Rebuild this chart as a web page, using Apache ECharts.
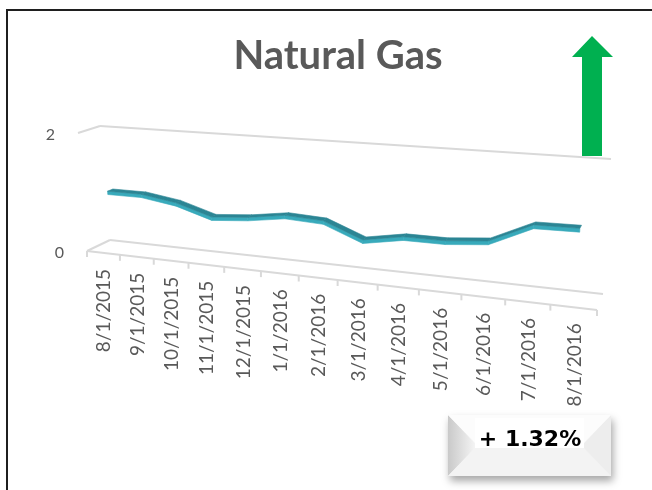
<!DOCTYPE html>
<html><head><meta charset="utf-8">
<script src="https://cdn.jsdelivr.net/npm/echarts@6/dist/echarts.min.js"></script>
<style>html,body{margin:0;padding:0;background:#fff}#c{width:652px;height:490px}</style>
</head><body><div id="c"></div>
<script>
// ---- data ----
const categories = ['8/1/2015','9/1/2015','10/1/2015','11/1/2015','12/1/2015','1/1/2016','2/1/2016','3/1/2016','4/1/2016','5/1/2016','6/1/2016','7/1/2016','8/1/2016'];
const values = [0.98, 0.98, 0.89, 0.71, 0.76, 0.85, 0.82, 0.58, 0.69, 0.69, 0.75, 1.05, 1.06];
const yTicks = [0, 2];
const yTickLabels = ['0', '2'];
const titleText = 'Natural Gas';
const changeText = '+ 1.32%';

// ---- 3D perspective frame (layout only) ----
const BACK  = {L0:[110,240], R0:[603,294], L1:[100,126], R1:[611,159]};
const FRONT = {L0:[87,251],  R0:[597,310], L1:[78,133],  R1:[605,169]};
const WARP = -0.1718;
function lerp(a,b,t){return [a[0]+(b[0]-a[0])*t, a[1]+(b[1]-a[1])*t];}
function plane(p,f,v){return lerp(lerp(p.L0,p.R0,f), lerp(p.L1,p.R1,f), v);}
function proj(u,v,d){const f=u*(1+WARP)/(1+WARP*u); return lerp(plane(BACK,f,v), plane(FRONT,f,v), d);}
function uv(api, cs, x, y){const p=api.coord([x,y]); return [(p[0]-cs.x)/cs.width, (cs.y+cs.height-p[1])/cs.height];}

const GRID = '#D9D9D9', TXT = '#595959';

const chart = echarts.init(document.getElementById('c'), null, {renderer:'canvas'});
chart.setOption({
  animation:false,
  backgroundColor:'#fff',
  title:{text:titleText, left:333, top:31, textAlign:'center',
    textStyle:{fontFamily:'Lato', fontWeight:'bold', fontSize:40, color:TXT}},
  grid:{left:100, right:50, top:130, bottom:180},
  xAxis:{type:'category', data:categories, show:false, boundaryGap:true},
  yAxis:{type:'value', min:yTicks[0], max:yTicks[yTicks.length-1], interval:2, show:false},
  graphic:[
    {type:'rect', z:0, shape:{x:7,y:10,width:700,height:600}, style:{fill:null, stroke:'#1f1f1f', lineWidth:2}},
    {type:'polygon', z:100, shape:{points:[[592,36],[613,57],[602,57],[602,156],[582,156],[582,57],[572,57]]}, style:{fill:'#00B050'}},
    {type:'group', z:100, x:448, y:415, children:[
      {type:'rect', shape:{x:0,y:0,width:163,height:61}, style:{fill:'#F6F6F6', shadowBlur:8, shadowOffsetX:2, shadowOffsetY:5, shadowColor:'rgba(0,0,0,0.35)'}},
      {type:'polygon', shape:{points:[[0,0],[27,28],[27,33],[0,61]]}, style:{fill:new echarts.graphic.LinearGradient(0,0,1,0,[{offset:0,color:'#C9C9C9'},{offset:1,color:'#F4F4F4'}])}},
      {type:'polygon', shape:{points:[[0,61],[27,33],[136,33],[163,61]]}, style:{fill:'#F3F3F3'}},
      {type:'polygon', shape:{points:[[163,0],[136,28],[136,33],[163,61]]}, style:{fill:'#EDEDED'}},
      {type:'polygon', shape:{points:[[0,0],[163,0],[136,28],[27,28]]}, style:{fill:'#FCFCFC'}},
      {type:'rect', shape:{x:27,y:3,width:109,height:30}, style:{fill:'#FFFFFF'}},
      {type:'text', x:82, y:25, style:{text:changeText, align:'center', verticalAlign:'middle', fontFamily:'DejaVu Sans', fontWeight:'bold', fontSize:22, fill:'#000'}}
    ]}
  ],
  series:[
    { // walls: gridlines
      type:'custom', z:1, silent:true,
      data: yTicks.map((t,i)=>[0,t,i]),
      renderItem:(params, api)=>{
        const cs = params.coordSys;
        const v = uv(api, cs, 0, api.value(1))[1];
        const back = [proj(0,v,0), proj(1,v,0)];
        const side = [proj(0,v,1), proj(0,v,0)];
        const st = {stroke:GRID, lineWidth:2, fill:null};
        const idx = api.value(2);
        const lab = proj(0,v,1);
        return {type:'group', children:[
          {type:'polyline', shape:{points:back}, style:st},
          {type:'polyline', shape:{points:side}, style:st},
          {type:'text', x:lab[0]-23, y:lab[1]+2, style:{text:yTickLabels[idx], align:'right', verticalAlign:'middle', fontFamily:'Lato', fontSize:16, fill:TXT}}
        ]};
      }
    },
    { // floor front edge, ticks, category labels
      type:'custom', z:1, silent:true,
      data: categories.map((c,i)=>[i, yTicks[0]]),
      renderItem:(params, api)=>{
        const cs = params.coordSys;
        const i = api.value(0);
        const c = uv(api, cs, i, api.value(1));
        const bw = api.size([1,0])[0]/cs.width;
        const children = [];
        const st = {stroke:GRID, lineWidth:2, fill:null};
        if (i===0) children.push({type:'polyline', shape:{points:[proj(0,c[1],1), proj(1,c[1],1)]}, style:st});
        const tk = [c[0]-bw/2];
        if (i===categories.length-1) tk.push(c[0]+bw/2);
        tk.forEach(u=>{const p=proj(u,c[1],1); children.push({type:'line', shape:{x1:p[0],y1:p[1],x2:p[0],y2:p[1]+6}, style:{stroke:GRID, lineWidth:2}});});
        const lp = proj(c[0], c[1], 1);
        children.push({type:'text', x:lp[0]+1, y:lp[1]+16, rotation:Math.PI/2,
          style:{text:categories[i], align:'right', verticalAlign:'middle', fontFamily:'Lato', fontSize:19, fill:TXT}});
        return {type:'group', children};
      }
    },
    { // 3D ribbon line
      type:'custom', z:3, silent:true,
      data: values.map((v,i)=>[i, v, i<values.length-1 ? values[i+1] : null]),
      encode:{x:0, y:1},
      renderItem:(params, api)=>{
        const i = api.value(0);
        if (i>=values.length-1) return null;
        const cs = params.coordSys;
        const a = uv(api, cs, i, api.value(1));
        const b = uv(api, cs, i+1, api.value(2));
        const dA=0.38, dB=0.62, th=0.028;
        const top = [proj(a[0],a[1],dA), proj(b[0],b[1],dA), proj(b[0],b[1],dB), proj(a[0],a[1],dB)];
        const front = [proj(a[0],a[1],dB), proj(b[0],b[1],dB), proj(b[0],b[1]-th,dB), proj(a[0],a[1]-th,dB)];
        return {type:'group', children:[
          {type:'polygon', shape:{points:front}, style:{fill:'#38AABB', stroke:'#38AABB', lineWidth:0.6}},
          {type:'polygon', shape:{points:top}, style:{fill:'#2B8594', stroke:'#2B8594', lineWidth:0.6}}
        ]};
      }
    }
  ]
});
</script></body></html>
